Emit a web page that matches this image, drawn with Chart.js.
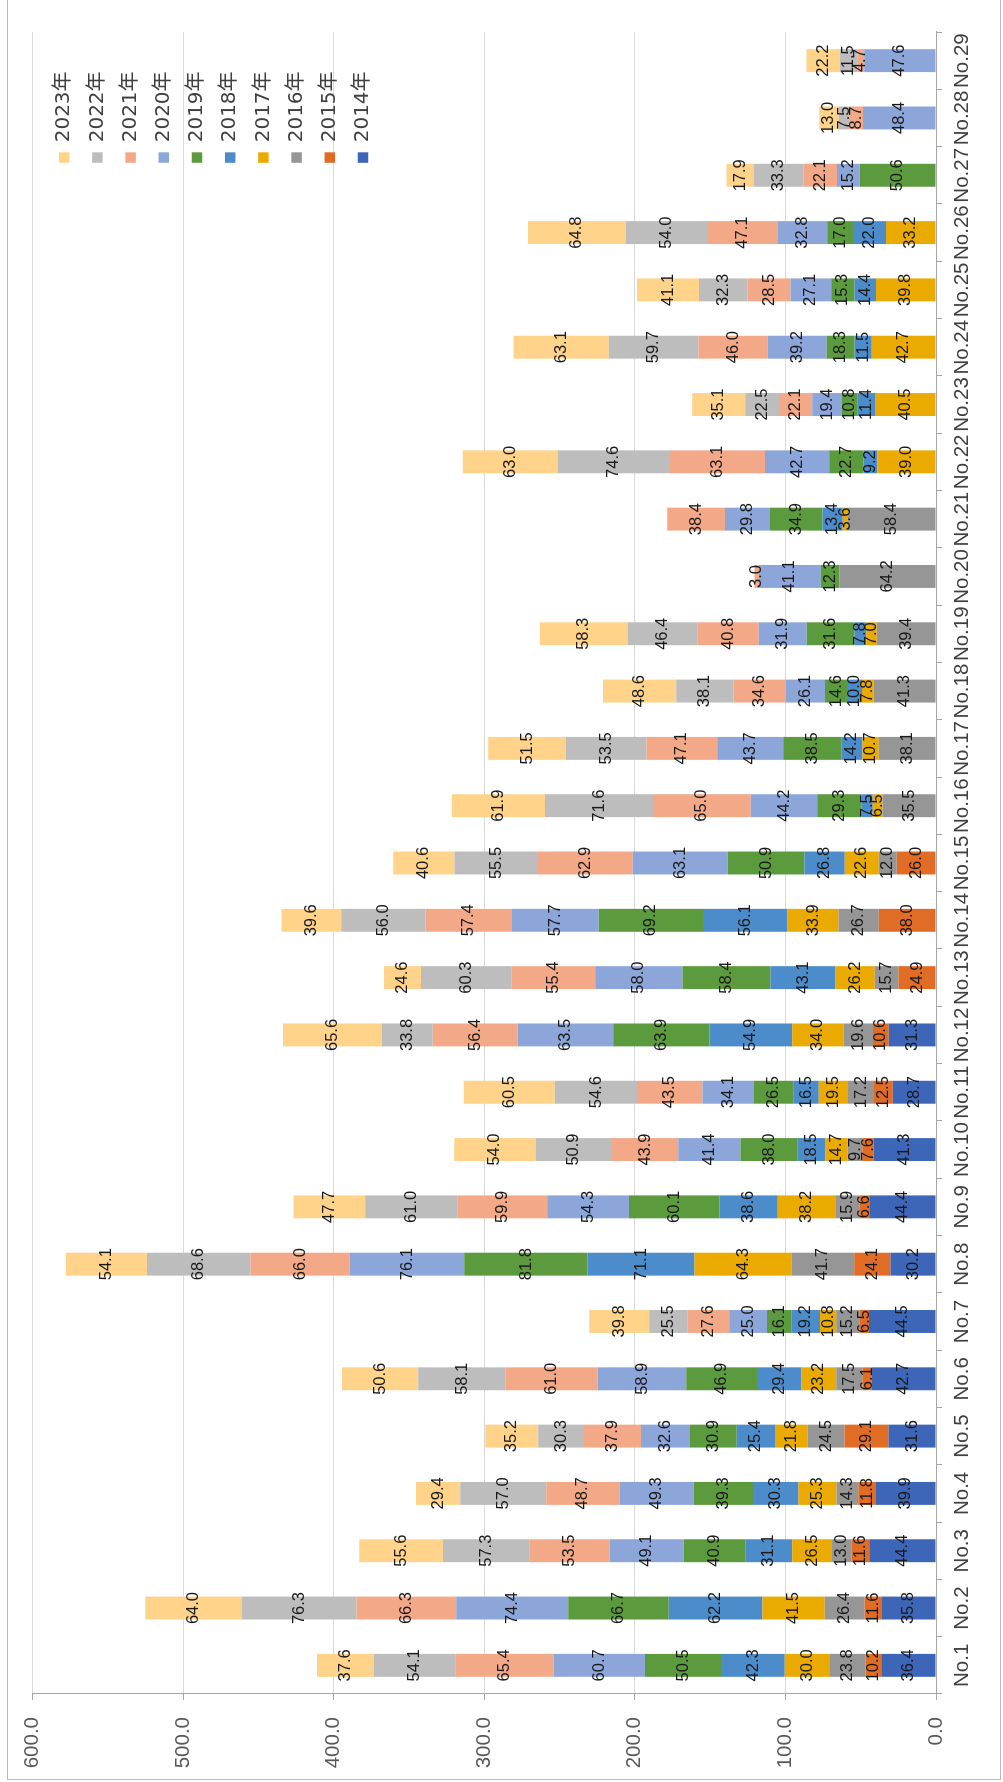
<!DOCTYPE html>
<html>
<head>
<meta charset="utf-8">
<script src="https://cdn.jsdelivr.net/npm/chart.js@4.4.1/dist/chart.umd.min.js"></script>
<style>
  html, body { margin: 0; padding: 0; background: #fff; overflow: hidden; }
  body { width: 1003px; height: 1782px; position: relative; }
  /* chart is laid out landscape, then turned a quarter turn to the left */
  #wrap {
    position: absolute; left: 0; top: 0;
    width: 1782px; height: 1003px;
    transform-origin: 0 0;
    transform: translate(0, 1782px) rotate(-90deg);
  }
  #frame {
    position: absolute; left: 2px; top: 7px; width: 1800px; height: 992px;
    border: 1px solid #b8b8b8; pointer-events: none;
  }
  canvas { position: absolute; left: 0; top: 0; }
</style>
</head>
<body>
<div id="wrap">
  <canvas id="stackChart" width="1782" height="1003"></canvas>
  <div id="frame"></div>
</div>
<script>
const categories = [
  "No.1", "No.2", "No.3", "No.4", "No.5", "No.6", "No.7", "No.8", "No.9", "No.10",
  "No.11", "No.12", "No.13", "No.14", "No.15", "No.16", "No.17", "No.18", "No.19", "No.20",
  "No.21", "No.22", "No.23", "No.24", "No.25", "No.26", "No.27", "No.28", "No.29",
];
const years = ["2014年", "2015年", "2016年", "2017年", "2018年", "2019年", "2020年", "2021年", "2022年", "2023年"];
const valueTicks = [0, 100, 200, 300, 400, 500, 600];

const y2014 = [36.4, 35.8, 44.4, 39.9, 31.6, 42.7, 44.5, 30.2, 44.4, 41.3, 28.7, 31.3,
  null, null, null, null, null, null, null, null, null, null, null, null, null, null, null, null, null];
const y2015 = [10.2, 11.6, 11.6, 11.8, 29.1, 6.1, 6.5, 24.1, 6.6, 7.6, 12.5, 10.6, 24.9, 38.0, 26.0,
  null, null, null, null, null, null, null, null, null, null, null, null, null, null];
const y2016 = [23.8, 26.4, 13.0, 14.3, 24.5, 17.5, 15.2, 41.7, 15.9, 9.7, 17.2, 19.6, 15.7, 26.7, 12.0,
  35.5, 38.1, 41.3, 39.4, 64.2, 58.4, null, null, null, null, null, null, null, null];
const y2017 = [30.0, 41.5, 26.5, 25.3, 21.8, 23.2, 10.8, 64.3, 38.2, 14.7, 19.5, 34.0, 26.2, 33.9, 22.6,
  6.5, 10.7, 7.8, 7.0, null, 3.6, 39.0, 40.5, 42.7, 39.8, 33.2, null, null, null];
const y2018 = [42.3, 62.2, 31.1, 30.3, 25.4, 29.4, 19.2, 71.1, 38.6, 18.5, 16.5, 54.9, 43.1, 56.1, 26.8,
  7.5, 14.2, 10.0, 7.8, null, 13.4, 9.2, 11.4, 11.5, 14.4, 22.0, null, null, null];
const y2019 = [50.5, 66.7, 40.9, 39.3, 30.9, 46.9, 16.1, 81.8, 60.1, 38.0, 26.5, 63.9, 58.4, 69.2, 50.9,
  29.3, 38.5, 14.6, 31.6, 12.3, 34.9, 22.7, 10.8, 18.3, 15.3, 17.0, 50.6, null, null];
const y2020 = [60.7, 74.4, 49.1, 49.3, 32.6, 58.9, 25.0, 76.1, 54.3, 41.4, 34.1, 63.5, 58.0, 57.7, 63.1,
  44.2, 43.7, 26.1, 31.9, 41.1, 29.8, 42.7, 19.4, 39.2, 27.1, 32.8, 15.2, 48.4, 47.6];
const y2021 = [65.4, 66.3, 53.5, 48.7, 37.9, 61.0, 27.6, 66.0, 59.9, 43.9, 43.5, 56.4, 55.4, 57.4, 62.9,
  65.0, 47.1, 34.6, 40.8, 3.0, 38.4, 63.1, 22.1, 46.0, 28.5, 47.1, 22.1, 8.7, 4.7];
const y2022 = [54.1, 76.3, 57.3, 57.0, 30.3, 58.1, 25.5, 68.6, 61.0, 50.9, 54.6, 33.8, 60.3, 56.0, 55.5,
  71.6, 53.5, 38.1, 46.4, null, null, 74.6, 22.5, 59.7, 32.3, 54.0, 33.3, 7.5, 11.5];
const y2023 = [37.6, 64.0, 55.6, 29.4, 35.2, 50.6, 39.8, 54.1, 47.7, 54.0, 60.5, 65.6, 24.6, 39.6, 40.6,
  61.9, 51.5, 48.6, 58.3, null, null, 63.0, 35.1, 63.1, 41.1, 64.8, 17.9, 13.0, 22.2];

const seriesValues = [y2014, y2015, y2016, y2017, y2018, y2019, y2020, y2021, y2022, y2023];
const seriesColors = [
  "#3d66b8", "#e06c26", "#969696", "#ebaa00", "#4d8ccb",
  "#5c9a3e", "#8da6da", "#f3a988", "#bdbdbd", "#ffd38a",
];

Chart.defaults.font.family = "'Liberation Sans', Arial, sans-serif";

// values written in the middle of every segment
const segmentLabels = {
  id: "segmentLabels",
  afterDatasetsDraw(chart) {
    const ctx = chart.ctx;
    ctx.save();
    ctx.font = "16.5px 'Liberation Sans', Arial, sans-serif";
    ctx.fillStyle = "#1a1a1a";
    ctx.textAlign = "center";
    ctx.textBaseline = "middle";
    chart.data.datasets.forEach((ds, i) => {
      const meta = chart.getDatasetMeta(i);
      meta.data.forEach((bar, j) => {
        const v = ds.data[j];
        if (v === null || v === undefined) return;
        const p = bar.getProps(["x", "y", "base"], true);
        ctx.fillText(v.toFixed(1), p.x, (p.y + p.base) / 2);
      });
    });
    ctx.restore();
  },
};

// legend sits inside the plot, near its right edge (top right of the rotated page)
const legendSpot = {
  id: "legendSpot",
  afterLayout(chart) {
    const lg = chart.legend;
    if (!lg) return;
    lg.left = 1606;
    lg.top = 41;
    lg.right = chart.width;
    lg.bottom = chart.chartArea.bottom;
  },
};

new Chart(document.getElementById("stackChart"), {
  type: "bar",
  data: {
    labels: categories,
    datasets: years.map((name, i) => ({
      label: name,
      data: seriesValues[i],
      backgroundColor: seriesColors[i],
      borderWidth: 0,
      categoryPercentage: 1,
      barPercentage: 0.4,
    })),
  },
  options: {
    responsive: false,
    animation: false,
    layout: {
      padding: { left: 0, top: 32.5, right: 32, bottom: 0 },
    },
    plugins: {
      tooltip: { enabled: false },
      legend: {
        position: "chartArea",
        align: "start",
        reverse: true,
        labels: {
          boxWidth: 10.5,
          boxHeight: 10.5,
          padding: 13.2,
          color: "#404040",
          font: { family: "'DejaVu Sans', 'Noto Sans CJK JP', sans-serif", size: 20 },
        },
      },
    },
    scales: {
      x: {
        stacked: true,
        grid: {
          drawOnChartArea: false,
          tickLength: 6,
          color: "#a6a6a6",
        },
        border: { color: "#a6a6a6" },
        ticks: {
          autoSkip: false,
          maxRotation: 0,
          minRotation: 0,
          padding: 8,
          color: "#404040",
          font: { size: 20.5 },
        },
        afterFit(scale) {
          scale.height = 67;
        },
      },
      y: {
        stacked: true,
        min: valueTicks[0],
        max: valueTicks[valueTicks.length - 1],
        ticks: {
          stepSize: valueTicks[1] - valueTicks[0],
          padding: 17,
          color: "#595959",
          font: { size: 20.5 },
          callback: (v) => Number(v).toFixed(1),
        },
        grid: {
          color: "#d9d9d9",
          tickColor: "#a6a6a6",
          tickLength: 6,
        },
        border: { color: "#a6a6a6" },
        afterFit(scale) {
          scale.width = 88;
        },
      },
    },
  },
  plugins: [segmentLabels, legendSpot],
});
</script>
</body>
</html>
